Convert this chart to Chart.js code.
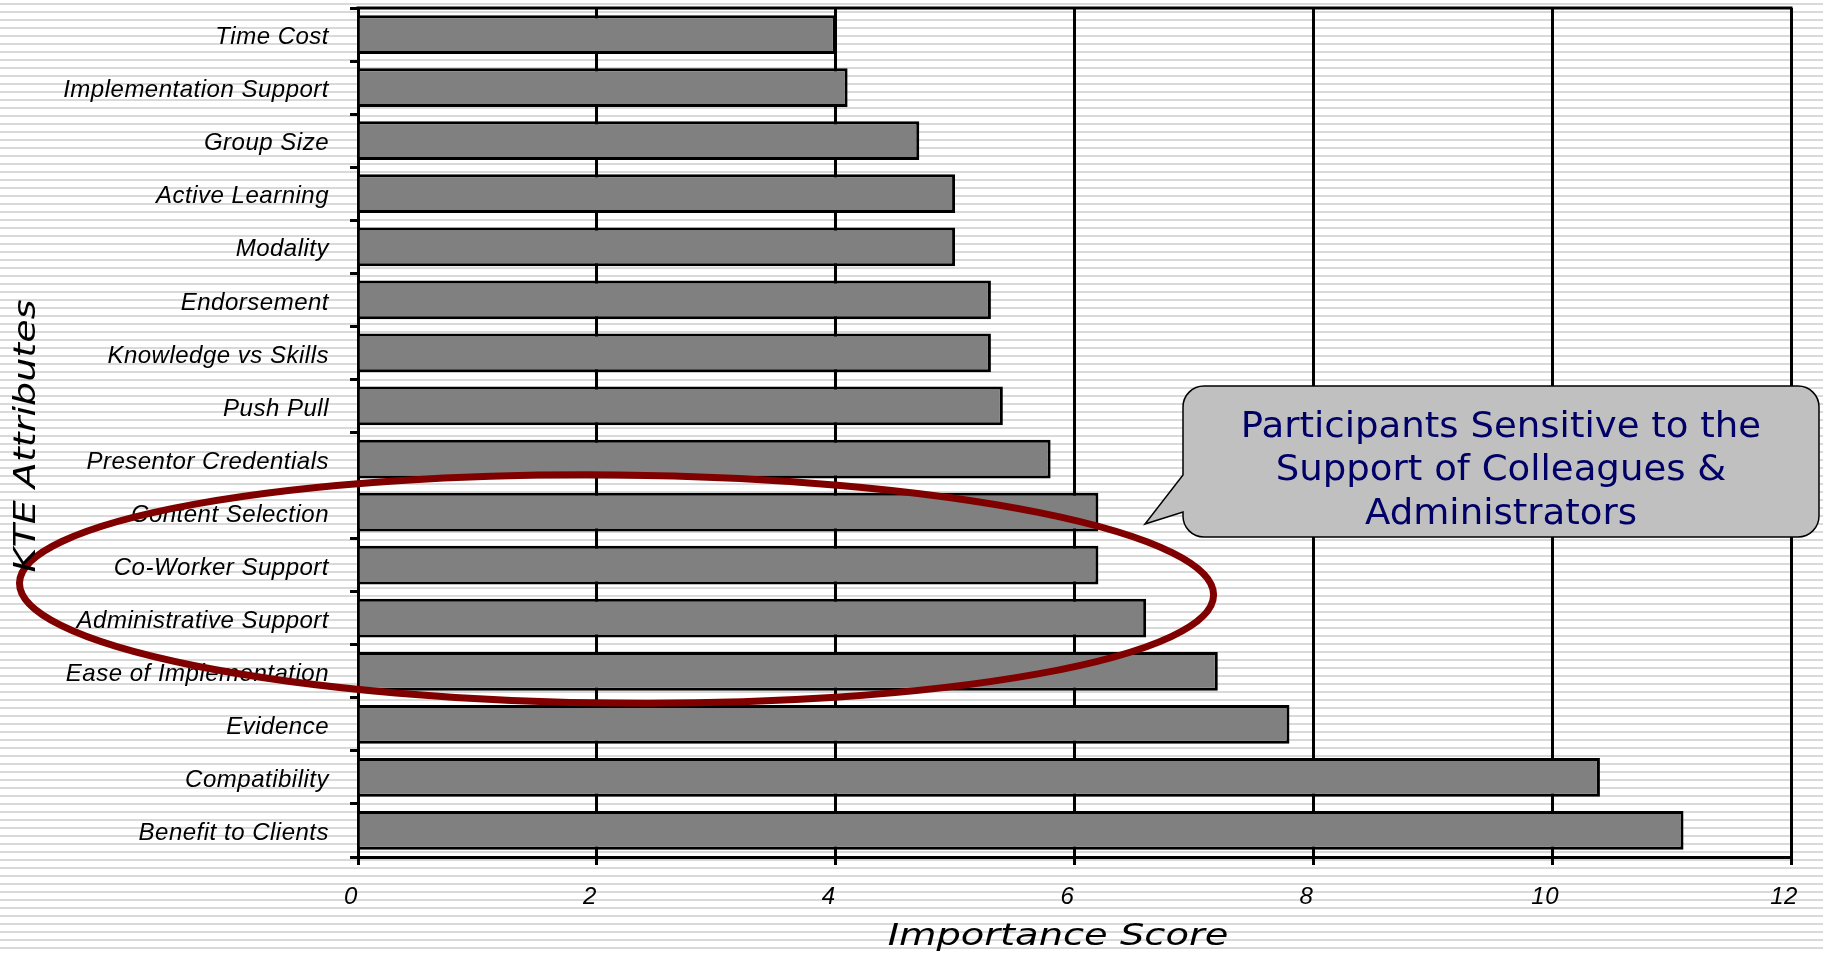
<!DOCTYPE html>
<html>
<head>
<meta charset="utf-8">
<title>KTE Attributes – Importance Score</title>
<script src="https://cdn.jsdelivr.net/npm/chart.js@4/dist/chart.umd.min.js"></script>
<style>
  html, body { margin: 0; padding: 0; background: #fff; }
  #wrap { width: 1823px; height: 954px; position: relative; }
</style>
</head>
<body>
<div id="wrap"><canvas id="chart"></canvas></div>
<script>
// Attributes, top to bottom, and their importance scores
const categories = [
  'Time Cost', 'Implementation Support', 'Group Size', 'Active Learning',
  'Modality', 'Endorsement', 'Knowledge vs Skills', 'Push Pull',
  'Presentor Credentials', 'Content Selection', 'Co-Worker Support',
  'Administrative Support', 'Ease of Implementation', 'Evidence',
  'Compatibility', 'Benefit to Clients'
];
const importanceScores = [4.0, 4.1, 4.7, 5.0, 5.0, 5.3, 5.3, 5.4, 5.8, 6.2, 6.2, 6.6, 7.2, 7.8, 10.4, 11.1];
const xTickValues = [0, 2, 4, 6, 8, 10, 12];

const xTitle = 'Importance Score';
const yTitle = 'KTE Attributes';
const calloutLines = ['Participants Sensitive to the', 'Support of Colleagues &', 'Administrators'];

// striped page background; slightly open letter spacing for the axis labels
const stripes = {
  id: 'stripes',
  beforeDraw(chart) {
    const { ctx, width, height } = chart;
    ctx.save();
    ctx.fillStyle = '#ffffff';
    ctx.fillRect(0, 0, width, height);
    ctx.fillStyle = '#d9d9d9';
    for (let y = 3; y < height; y += 8) ctx.fillRect(0, y, width, 2);
    ctx.restore();
    ctx.letterSpacing = '0.5px';
  },
  beforeDatasetsDraw(chart) {
    chart.ctx.letterSpacing = '0px';
  }
};

function stretchedText(ctx, text, x, y, sx, rot) {
  ctx.save();
  ctx.translate(x, y);
  if (rot) ctx.rotate(rot);
  ctx.scale(sx, 1);
  ctx.fillText(text, 0, 0);
  ctx.restore();
}

// frame top, highlight ellipse, callout and axis titles
const overlay = {
  id: 'overlay',
  afterDraw(chart) {
    const { ctx, chartArea: a } = chart;
    const xs = chart.scales.x, ys = chart.scales.y;
    ctx.save();
    ctx.letterSpacing = '0px';

    // top edge of the plot frame
    ctx.strokeStyle = '#000';
    ctx.lineWidth = 3;
    ctx.beginPath();
    ctx.moveTo(a.left - 1.5, a.top);
    ctx.lineTo(a.right + 1.5, a.top);
    ctx.stroke();

    // ellipse around the support-related attributes
    const cx = xs.getPixelForValue(2.165);
    const cy = ys.getPixelForValue(10.45);
    const rx = xs.getPixelForValue(5.0) - xs.getPixelForValue(0);
    const ry = (ys.getPixelForValue(1) - ys.getPixelForValue(0)) * 2.15;
    ctx.beginPath();
    ctx.ellipse(cx, cy, rx, ry, 0.01, 0, Math.PI * 2);
    ctx.strokeStyle = '#800000';
    ctx.lineWidth = 7;
    ctx.stroke();

    // speech-bubble callout
    const L = 1183, T = 386, R = 1819, B = 537, r = 21;
    const tipX = 1145, tipY = 524, tailLow = 512, tailHigh = 475;
    ctx.beginPath();
    ctx.moveTo(L + r, T);
    ctx.lineTo(R - r, T);
    ctx.arcTo(R, T, R, T + r, r);
    ctx.lineTo(R, B - r);
    ctx.arcTo(R, B, R - r, B, r);
    ctx.lineTo(L + r, B);
    ctx.arcTo(L, B, L, B - r, r);
    ctx.lineTo(L, tailLow);
    ctx.lineTo(tipX, tipY);
    ctx.lineTo(L, tailHigh);
    ctx.lineTo(L, T + r);
    ctx.arcTo(L, T, L + r, T, r);
    ctx.closePath();
    ctx.fillStyle = '#c0c0c0';
    ctx.fill();
    ctx.strokeStyle = '#000';
    ctx.lineWidth = 1.5;
    ctx.stroke();

    ctx.fillStyle = '#000066';
    ctx.font = '36px "DejaVu Sans"';
    ctx.textAlign = 'center';
    ctx.textBaseline = 'middle';
    const mid = (L + R) / 2;
    [428, 471, 515].forEach((y, i) => stretchedText(ctx, calloutLines[i], mid, y, 1.03, 0));

    // axis titles
    ctx.fillStyle = '#000';
    ctx.font = 'oblique 30px "DejaVu Sans"';
    ctx.textBaseline = 'alphabetic';
    stretchedText(ctx, xTitle, 1058, 945, 1.28, 0);
    ctx.textBaseline = 'middle';
    stretchedText(ctx, yTitle, 27, 436, 1.27, -Math.PI / 2);

    ctx.restore();
  }
};

new Chart(document.getElementById('chart'), {
  type: 'bar',
  data: {
    labels: categories,
    datasets: [{
      data: importanceScores,
      backgroundColor: '#808080',
      borderColor: '#000000',
      borderWidth: 3,
      barPercentage: 0.73,
      categoryPercentage: 1.0
    }]
  },
  options: {
    indexAxis: 'y',
    responsive: true,
    maintainAspectRatio: false,
    animation: false,
    events: [],
    layout: { padding: { left: 0, top: 8, right: 32, bottom: 0 } },
    plugins: {
      legend: { display: false },
      tooltip: { enabled: false },
      title: { display: false }
    },
    scales: {
      x: {
        type: 'linear',
        min: 0,
        max: 12,
        afterBuildTicks(scale) { scale.ticks = xTickValues.map(v => ({ value: v })); },
        afterFit(scale) { scale.height = 97; scale.paddingLeft = 0; scale.paddingRight = 0; },
        border: { display: true, color: '#000', width: 3 },
        grid: { color: '#000', lineWidth: 3, tickLength: 8, drawTicks: true },
        ticks: {
          color: '#000',
          font: { family: '"Liberation Sans", Arial, sans-serif', size: 24, style: 'italic' },
          padding: 18,
          labelOffset: -7
        }
      },
      y: {
        type: 'category',
        afterFit(scale) { scale.width = 358; scale.paddingTop = 0; scale.paddingBottom = 0; },
        border: { display: true, color: '#000', width: 3 },
        grid: { offset: true, drawOnChartArea: false, drawTicks: true, tickLength: 8, color: '#000', lineWidth: 3 },
        ticks: {
          color: '#000',
          font: { family: '"Liberation Sans", Arial, sans-serif', size: 24, style: 'italic' },
          padding: 21,
          labelOffset: 3
        }
      }
    }
  },
  plugins: [stripes, overlay]
});
</script>
</body>
</html>
